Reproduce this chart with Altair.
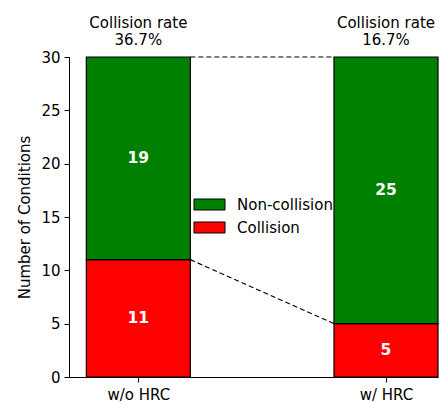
import altair as alt
import pandas as pd

categories = ["w/o HRC", "w/ HRC"]
positions = [0, 1]
collision = [11, 5]
non_collision = [19, 25]
series = ["Non-collision", "Collision"]
colors = ["#008000", "#ff0000"]

half = 0.21

rows = []
for p, c, n in zip(positions, collision, non_collision):
    rows.append({"pos": p, "x0": p - half, "x1": p + half, "y0": 0, "y1": c,
                 "series": "Collision", "val": c, "mid": c / 2})
    rows.append({"pos": p, "x0": p - half, "x1": p + half, "y0": c, "y1": c + n,
                 "series": "Non-collision", "val": n, "mid": c + n / 2})
bars_df = pd.DataFrame(rows)

totals = [c + n for c, n in zip(collision, non_collision)]
lines_df = pd.DataFrame([
    {"xa": positions[0] + half, "xb": positions[1] - half, "ya": totals[0], "yb": totals[1]},
    {"xa": positions[0] + half, "xb": positions[1] - half, "ya": collision[0], "yb": collision[1]},
])

rate_df = pd.DataFrame({
    "pos": positions,
    "label": [f"Collision rate\n{c / t * 100:.1f}%" for c, t in zip(collision, totals)],
})

FONT = "DejaVu Sans"
xscale = alt.Scale(domain=[-0.28, 1.21], nice=False, zero=False)
yscale = alt.Scale(domain=[0, 30], nice=False)

xaxis = alt.Axis(values=positions, title=None, grid=False,
                 labelExpr="datum.value == 0 ? 'w/o HRC' : 'w/ HRC'",
                 domainColor="black", tickColor="black", labelColor="black",
                 labelFontSize=15, labelFont=FONT, tickSize=5, labelPadding=5)
yaxis = alt.Axis(values=[0, 5, 10, 15, 20, 25, 30], title="Number of Conditions",
                 grid=False, domainColor="black", tickColor="black", labelColor="black",
                 labelFontSize=15, labelFont=FONT, titleFontSize=15, titleFont=FONT,
                 titleFontWeight="normal", titleColor="black", tickSize=5, labelPadding=4,
                 titlePadding=8)

bars = alt.Chart(bars_df).mark_rect(stroke="black", strokeWidth=1.2).encode(
    x=alt.X("x0:Q", scale=xscale, axis=xaxis),
    x2="x1:Q",
    y=alt.Y("y0:Q", scale=yscale, axis=yaxis),
    y2="y1:Q",
    color=alt.Color("series:N", scale=alt.Scale(domain=series, range=colors),
                    legend=alt.Legend(title=None, orient="none", legendX=129, legendY=136,
                                      symbolType="M-1.41,-0.5L1.41,-0.5L1.41,0.5L-1.41,0.5Z",
                                      symbolSize=484, symbolStrokeColor="black",
                                      symbolStrokeWidth=1, labelFontSize=15, labelFont=FONT,
                                      labelColor="black", labelOffset=16, rowPadding=3)),
)

nums = alt.Chart(bars_df).mark_text(color="white", fontWeight="bold", fontSize=15.5,
                                    font=FONT, baseline="middle").encode(
    x=alt.X("pos:Q", scale=xscale),
    y=alt.Y("mid:Q", scale=yscale),
    text="val:Q",
)

lines = alt.Chart(lines_df).mark_rule(color="black", strokeDash=[5, 3], strokeWidth=1.2).encode(
    x=alt.X("xa:Q", scale=xscale),
    x2="xb:Q",
    y=alt.Y("ya:Q", scale=yscale),
    y2="yb:Q",
)

titles = alt.Chart(rate_df).mark_text(fontSize=15, font=FONT, color="black",
                                      baseline="alphabetic", lineBreak="\n",
                                      lineHeight=17).encode(
    x=alt.X("pos:Q", scale=xscale), y=alt.value(-29), text="label:N")

chart = alt.layer(lines, bars, nums, titles).properties(
    width=369, height=320, background="white",
    padding={"left": 9, "top": 8, "right": 0, "bottom": 0}
).configure_view(stroke=None)

chart.save("out.html", embed_options={"renderer": "svg", "actions": False})
